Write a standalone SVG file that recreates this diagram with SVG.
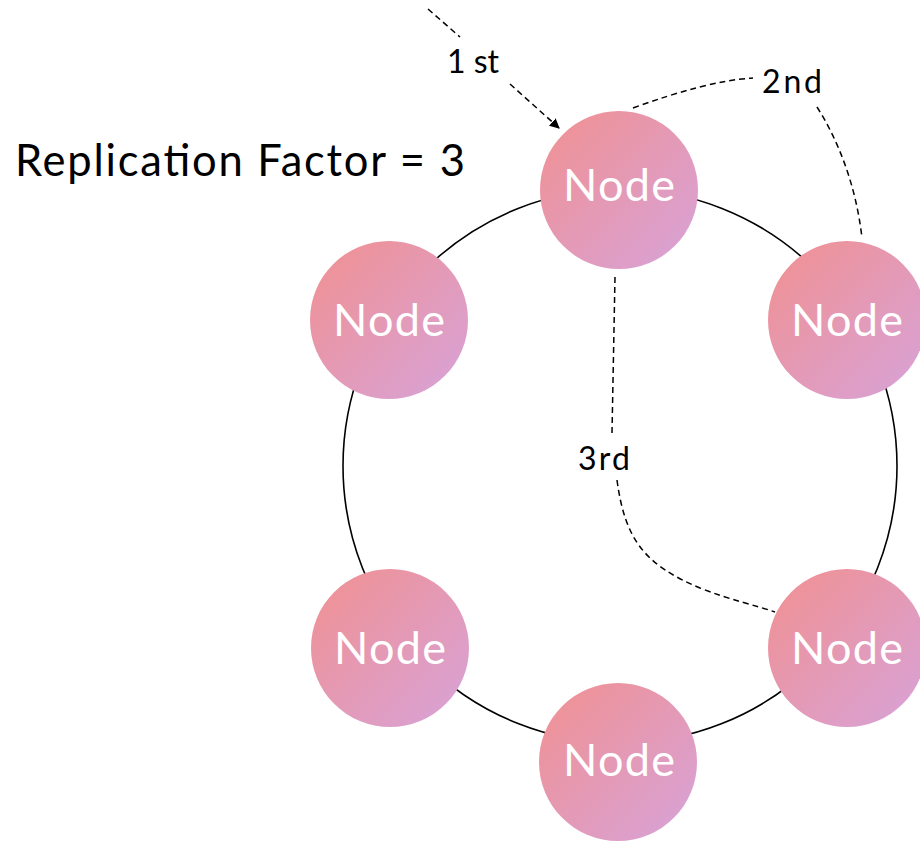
<svg xmlns="http://www.w3.org/2000/svg" width="920" height="842" viewBox="0 0 920 842">
<defs>
<linearGradient id="g" x1="0" y1="0" x2="1" y2="1">
<stop offset="0" stop-color="#F19090"/>
<stop offset="1" stop-color="#D7A3DA"/>
</linearGradient>
<marker id="arr" viewBox="0 0 10 10" refX="9" refY="5" markerWidth="10" markerHeight="10" markerUnits="userSpaceOnUse" orient="auto">
<path d="M0,0 L10,5 L0,10 z" fill="#000"/>
</marker>
<style>
.n{fill:url(#g);}
.nt{font-family:Lato,"Liberation Sans",sans-serif;font-size:45px;fill:#fff;text-anchor:middle;}
.lbl{font-family:Lato,"Liberation Sans",sans-serif;font-size:32px;fill:#000;text-anchor:middle;}
.d{fill:none;stroke:#000;stroke-width:1.5;stroke-dasharray:6 4;}
</style>
</defs>
<rect width="920" height="842" fill="#fff"/>
<circle cx="620" cy="466" r="277" fill="none" stroke="#000" stroke-width="1.6"/>
<g id="connectors">
<path class="d" d="M428,9 L460,37"/>
<path class="d" d="M510,84 L559,128" marker-end="url(#arr)"/>
<path class="d" d="M633,108 C680,91 720,80 753,78"/>
<path class="d" d="M817,107 C838,140 856,185 862,238"/>
<path class="d" d="M615,277 L612,433"/>
<path class="d" d="M617,480 C625,540 645,565 700,588 C730,600 755,605 775,612"/>
<text class="lbl" x="473" y="73">1 st</text>
<text class="lbl" x="792" y="93" textLength="60">2nd</text>
<text class="lbl" x="604" y="470" textLength="52">3rd</text>
</g>
<text x="15" y="176" font-family="Lato,'Liberation Sans',sans-serif" font-size="43.5" fill="#000" textLength="450">Replication Factor = 3</text>
<g id="node-top"><circle class="n" cx="619" cy="190" r="79"/><text class="nt" x="619" y="201" textLength="112">Node</text></g>
<g id="node-right-top"><circle class="n" cx="847" cy="320" r="79"/><text class="nt" x="847" y="336" textLength="112">Node</text></g>
<g id="node-left-top"><circle class="n" cx="389" cy="320" r="79"/><text class="nt" x="389" y="336" textLength="112">Node</text></g>
<g id="node-left-bottom"><circle class="n" cx="390" cy="648" r="79"/><text class="nt" x="390" y="664" textLength="112">Node</text></g>
<g id="node-right-bottom"><circle class="n" cx="847" cy="648" r="79"/><text class="nt" x="847" y="664" textLength="112">Node</text></g>
<g id="node-bottom"><circle class="n" cx="618" cy="762" r="79"/><text class="nt" x="619" y="776" textLength="112">Node</text></g>
</svg>
